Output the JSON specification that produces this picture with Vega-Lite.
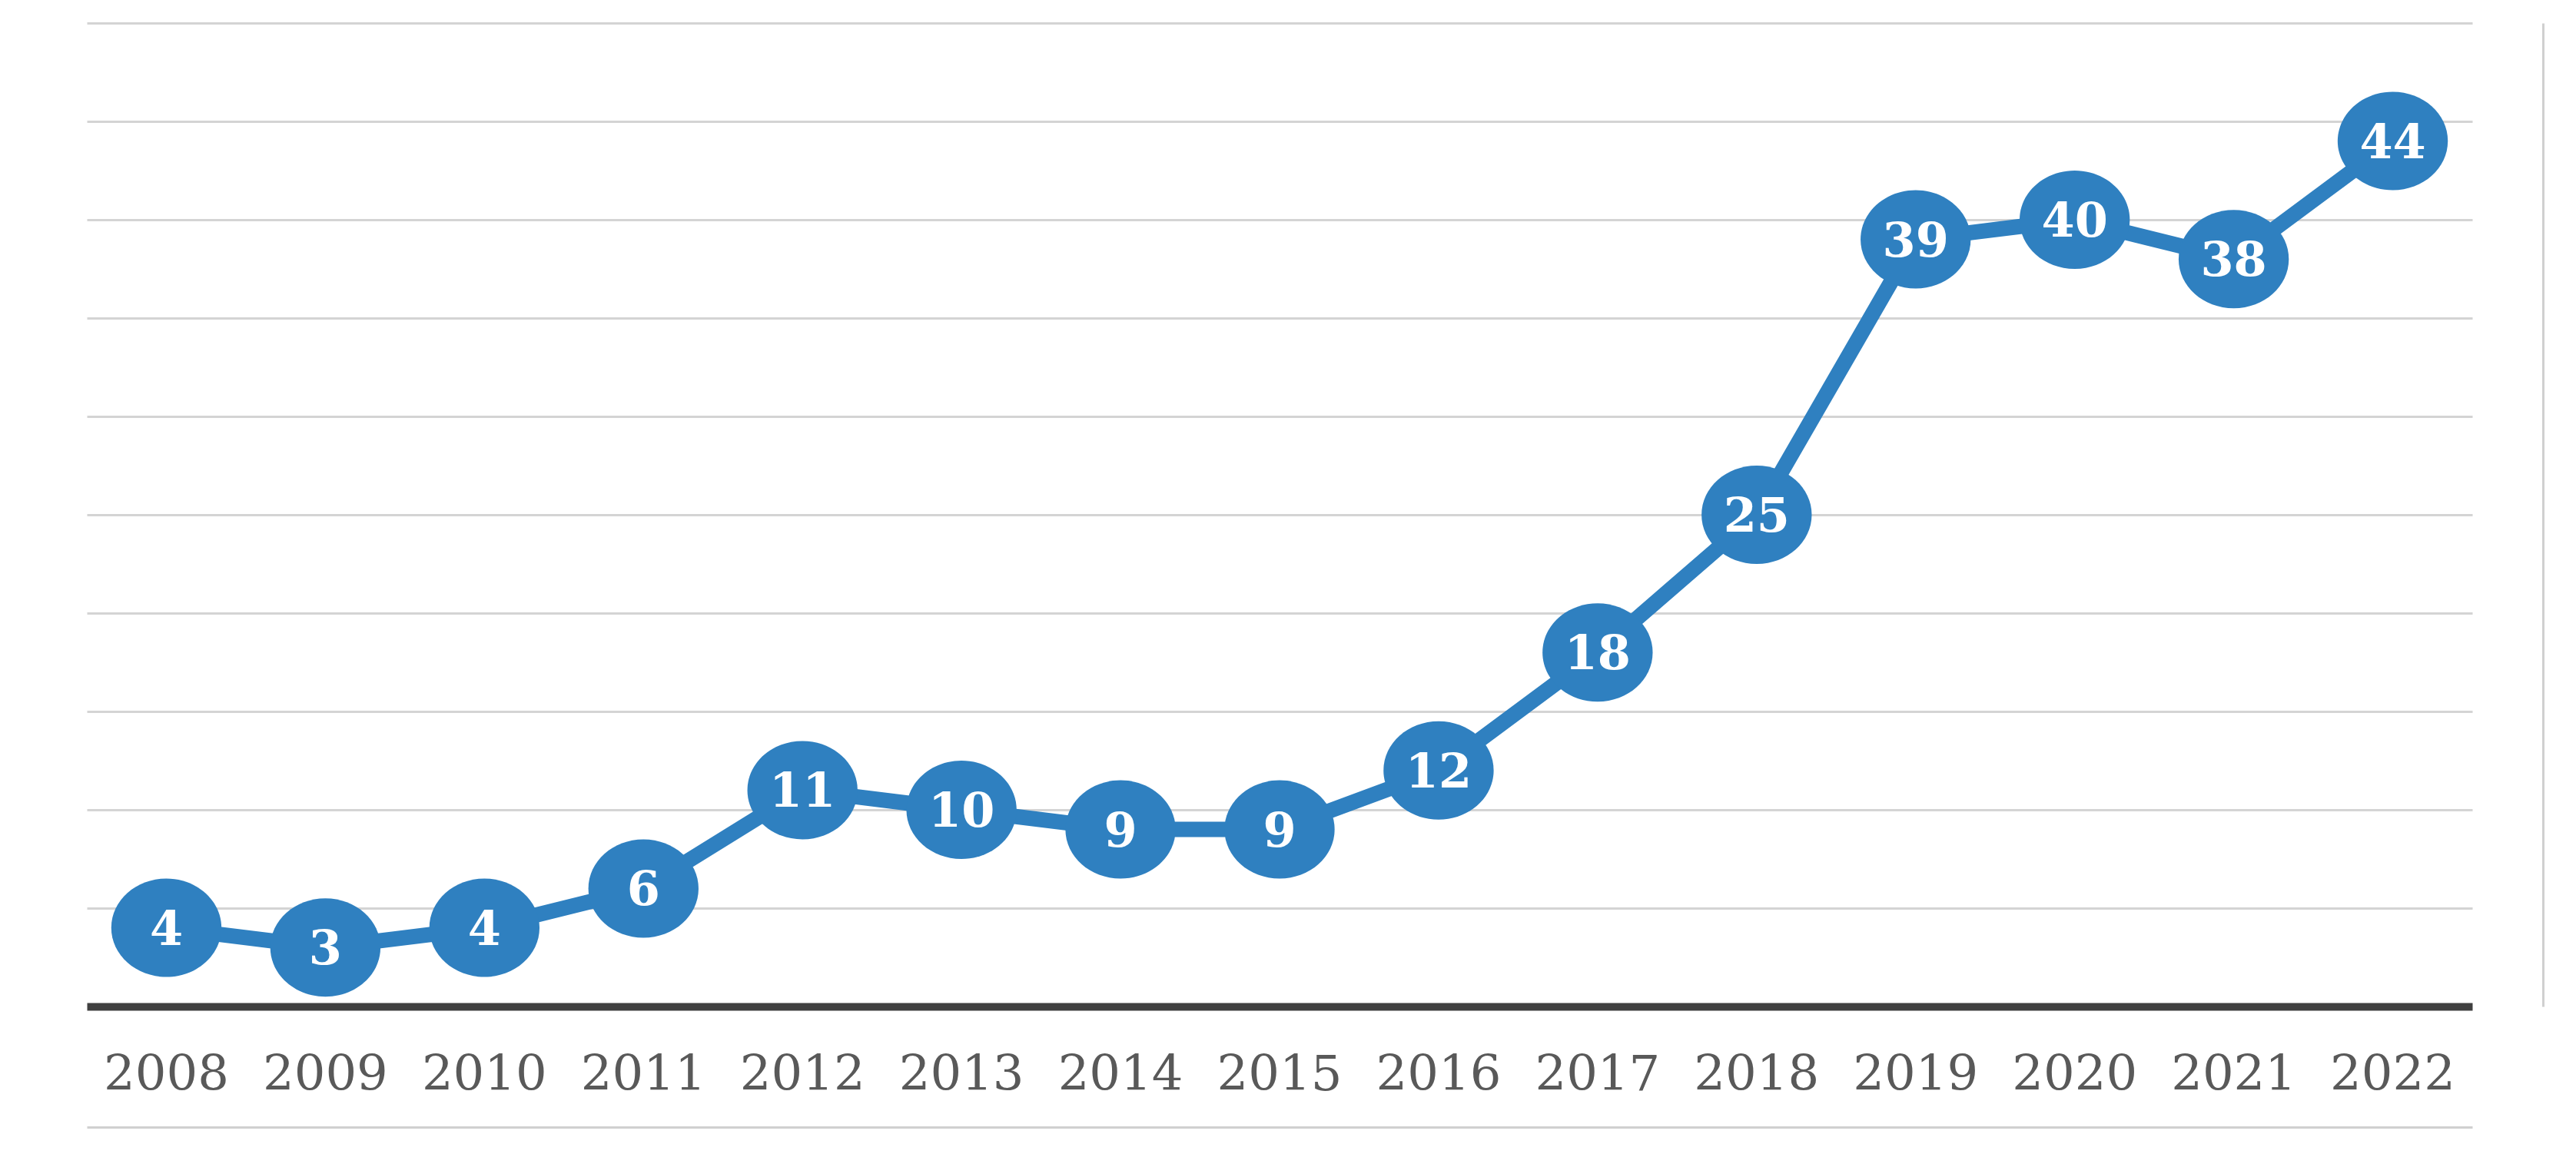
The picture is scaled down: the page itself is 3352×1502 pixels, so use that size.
{
  "$schema": "https://vega.github.io/schema/vega-lite/v6.json",
  "width": 3104,
  "height": 1280,
  "autosize": {"type": "none"},
  "padding": {"left": 113, "top": 30, "right": 135, "bottom": 192},
  "background": "white",
  "config": {"view": {"stroke": null}},
  "data": {
    "values": [
      {"year": "2008", "count": 4},
      {"year": "2009", "count": 3},
      {"year": "2010", "count": 4},
      {"year": "2011", "count": 6},
      {"year": "2012", "count": 11},
      {"year": "2013", "count": 10},
      {"year": "2014", "count": 9},
      {"year": "2015", "count": 9},
      {"year": "2016", "count": 12},
      {"year": "2017", "count": 18},
      {"year": "2018", "count": 25},
      {"year": "2019", "count": 39},
      {"year": "2020", "count": 40},
      {"year": "2021", "count": 38},
      {"year": "2022", "count": 44}
    ]
  },
  "resolve": {"axis": {"x": "independent", "y": "independent"}},
  "layer": [
    {
      "mark": {"type": "line", "color": "#2F80C0", "strokeWidth": 20},
      "encoding": {
        "x": {
          "field": "year", "type": "nominal",
          "scale": {"type": "band", "paddingInner": 0, "paddingOuter": 0},
          "axis": {
            "title": null, "orient": "bottom", "ticks": false, "grid": false,
            "labelAngle": 0, "labelFont": "DejaVu Serif", "labelFontSize": 64,
            "labelColor": "#595959", "labelPadding": 57,
            "domain": true, "domainColor": "#404040", "domainWidth": 10
          }
        },
        "y": {
          "field": "count", "type": "quantitative",
          "scale": {"domain": [0, 50], "nice": false, "zero": true},
          "axis": {
            "title": null, "orient": "left", "labels": false, "ticks": false, "domain": false,
            "grid": true, "values": [5, 10, 15, 20, 25, 30, 35, 40, 45, 50],
            "gridColor": "#d4d4d4", "gridWidth": 3
          }
        }
      }
    },
    {
      "mark": {
        "type": "point", "filled": true, "opacity": 1, "color": "#2F80C0",
        "shape": "M -1.12 0 A 1.12 1 0 1 1 1.12 0 A 1.12 1 0 1 1 -1.12 0 Z",
        "size": 16384
      },
      "encoding": {
        "x": {
          "field": "year", "type": "nominal",
          "axis": {
            "title": null, "orient": "bottom", "offset": 157, "labels": false, "ticks": false,
            "grid": false, "domain": true, "domainColor": "#d0d0d0", "domainWidth": 3
          }
        },
        "y": {
          "field": "count", "type": "quantitative",
          "axis": {
            "title": null, "orient": "right", "offset": 92, "labels": false, "ticks": false,
            "grid": false, "domain": true, "domainColor": "#d0d0d0", "domainWidth": 3
          }
        }
      }
    },
    {
      "mark": {
        "type": "text", "color": "white", "font": "DejaVu Serif", "fontWeight": "bold",
        "fontSize": 62, "baseline": "middle", "align": "center", "dy": 3
      },
      "encoding": {
        "x": {"field": "year", "type": "nominal", "axis": null},
        "y": {"field": "count", "type": "quantitative", "axis": null},
        "text": {"field": "count", "type": "quantitative"}
      }
    }
  ]
}
